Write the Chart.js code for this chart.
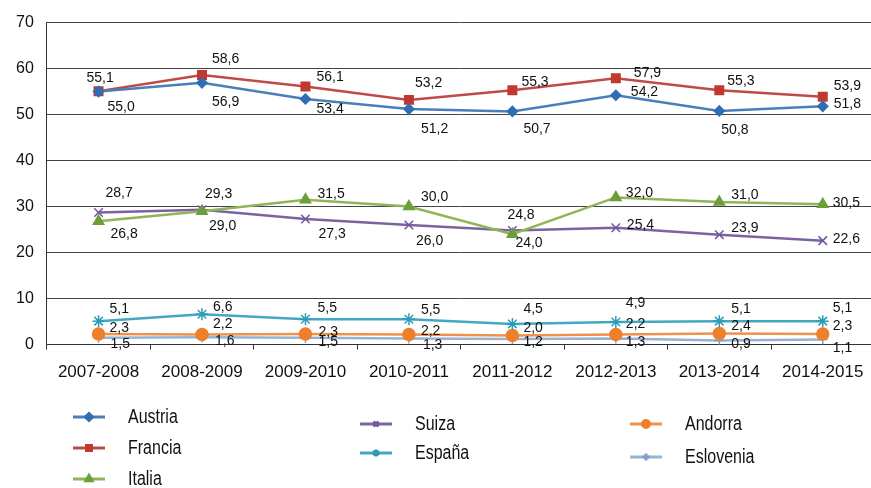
<!DOCTYPE html>
<html>
<head>
<meta charset="utf-8">
<script src="https://cdn.jsdelivr.net/npm/chart.js@4"></script>
<style>
  body { margin: 0; background: #fff; overflow: hidden; }
  #wrap { width: 882px; height: 488px; position: relative; }
</style>
</head>
<body>
<div id="wrap"><canvas id="canvas"></canvas></div>
<script>
var categories = ['2007-2008', '2008-2009', '2009-2010', '2010-2011', '2011-2012', '2012-2013', '2013-2014', '2014-2015'];
var yTicks = [0, 10, 20, 30, 40, 50, 60, 70];

var austria   = [55.0, 56.9, 53.4, 51.2, 50.7, 54.2, 50.8, 51.8];
var francia   = [55.1, 58.6, 56.1, 53.2, 55.3, 57.9, 55.3, 53.9];
var italia    = [26.8, 29.0, 31.5, 30.0, 24.0, 32.0, 31.0, 30.5];
var suiza     = [28.7, 29.3, 27.3, 26.0, 24.8, 25.4, 23.9, 22.6];
var espana    = [5.1, 6.6, 5.5, 5.5, 4.5, 4.9, 5.1, 5.1];
var andorra   = [2.3, 2.2, 2.3, 2.2, 2.0, 2.2, 2.4, 2.3];
var eslovenia = [1.5, 1.6, 1.5, 1.3, 1.2, 1.3, 0.9, 1.1];

// where each value label sits relative to its point [dx, dy]
var labelPos = {
  Austria:   [[9, 16], [10, 19], [11, 10], [12, 20], [11, 18], [15, -3], [2, 19], [11, -2]],
  Francia:   [[-12, -13], [10, -16], [11, -9], [6, -17], [9, -8], [18, -5], [8, -9], [11, -11]],
  Italia:    [[12, 13], [7, 15], [12, -6], [12, -9], [3, 9], [10, -4], [12, -7], [10, -1]],
  Suiza:     [[7, -19], [3, -16], [13, 15], [7, 16], [-5, -15], [11, -3], [12, -7], [10, -1]],
  'España':  [[11, -12], [11, -7], [12, -11], [12, -9], [11, -15], [10, -19], [12, -12], [10, -13]],
  Andorra:   [[11, -6], [11, -10], [13, -2], [12, -3], [11, -7], [10, -10], [12, -7], [10, -8]],
  Eslovenia: [[12, 6], [13, 4], [13, 4], [14, 7], [11, 3], [10, 4], [12, 4], [10, 9]]
};

function ds(label, data, color, marker, style, radius) {
  return {
    label: label,
    data: data,
    borderColor: color,
    backgroundColor: marker,
    pointBackgroundColor: marker,
    pointBorderColor: marker,
    pointStyle: style,
    pointRadius: radius,
    pointBorderWidth: 1.5,
    borderWidth: 2.5,
    tension: 0
  };
}

var datasets = [
  ds('Austria', austria, '#4a7ebb', '#2f6db5', 'rectRot', 5),
  ds('Francia', francia, '#be4b48', '#c0392f', 'rect', 6),
  ds('Italia', italia, '#8fb556', '#6c9f3a', 'triangle', 6),
  ds('Suiza', suiza, '#7d62a0', '#7256a0', 'crossRot', 6),
  ds('España', espana, '#43a8c2', '#2e9cb8', 'star', 6),
  ds('Andorra', andorra, '#f0914a', '#f07f2a', 'circle', 6),
  ds('Eslovenia', eslovenia, '#95b3d7', '#7f9fcf', 'cross', 5)
];

// legend columns (dataset indexes per column)
var legendCols = [[0, 1, 2], [3, 4], [5, 6]];

var valueLabels = {
  id: 'valueLabels',
  afterDatasetsDraw: function(chart) {
    var ctx = chart.ctx;
    ctx.save();
    ctx.font = '14px "Liberation Sans", Arial, sans-serif';
    ctx.fillStyle = '#111';
    ctx.textAlign = 'left';
    ctx.textBaseline = 'middle';
    chart.data.datasets.forEach(function(d, i) {
      var meta = chart.getDatasetMeta(i);
      var pos = labelPos[d.label];
      meta.data.forEach(function(pt, j) {
        var txt = d.data[j].toFixed(1).replace('.', ',');
        ctx.fillText(txt, pt.x + pos[j][0], pt.y + pos[j][1]);
      });
    });
    ctx.restore();
  }
};

var columnLegend = {
  id: 'columnLegend',
  afterDraw: function(chart) {
    var ctx = chart.ctx;
    var colX = [73, 360, 630];
    var colY = [417, 424, 424];
    var rowGap = [31, 29, 33];
    ctx.save();
    legendCols.forEach(function(col, c) {
      col.forEach(function(idx, r) {
        var d = chart.data.datasets[idx];
        var x = colX[c], y = colY[c] + r * rowGap[c];
        ctx.strokeStyle = d.borderColor;
        ctx.lineWidth = 3;
        ctx.beginPath();
        ctx.moveTo(x, y);
        ctx.lineTo(x + 32, y);
        ctx.stroke();
        ctx.fillStyle = d.pointBackgroundColor;
        ctx.strokeStyle = d.pointBorderColor;
        Chart.helpers.drawPoint(ctx, {
          pointStyle: d.pointStyle,
          radius: 3.5,
          borderWidth: 1.5,
          rotation: 0
        }, x + 16, y);
        ctx.save();
        ctx.translate(x + 55, y);
        ctx.scale(0.8, 1);
        ctx.font = '20px "Liberation Sans", Arial, sans-serif';
        ctx.textBaseline = 'middle';
        ctx.textAlign = 'left';
        ctx.fillStyle = '#111';
        ctx.fillText(d.label, 0, 0);
        ctx.restore();
      });
    });
    ctx.restore();
  }
};

function init() {
  var ctx = document.getElementById('canvas').getContext('2d');
  window.myLine = new Chart(ctx, {
    type: 'line',
    data: { labels: categories, datasets: datasets },
    plugins: [valueLabels, columnLegend],
    options: {
      responsive: true,
      maintainAspectRatio: false,
      animation: false,
      layout: { padding: { top: 11, left: 3, right: 1, bottom: 92 } },
      plugins: {
        legend: { display: false },
        tooltip: { enabled: false }
      },
      scales: {
        x: {
          offset: true,
          grid: { display: true, drawOnChartArea: false, drawTicks: true, tickLength: 5, color: '#333', offset: true },
          border: { color: '#333', width: 1 },
          ticks: { color: '#111', padding: 13, font: { family: '"Liberation Sans", Arial, sans-serif', size: 17 } }
        },
        y: {
          min: 0,
          max: 70,
          afterBuildTicks: function(axis) {
            axis.ticks = yTicks.map(function(v) { return { value: v }; });
          },
          grid: { color: '#444', lineWidth: 1, drawTicks: false },
          border: { color: '#333', width: 1 },
          ticks: { color: '#111', padding: 13, font: { family: '"Liberation Sans", Arial, sans-serif', size: 16 } }
        }
      }
    }
  });
}

window.onload = init;
</script>
</body>
</html>
